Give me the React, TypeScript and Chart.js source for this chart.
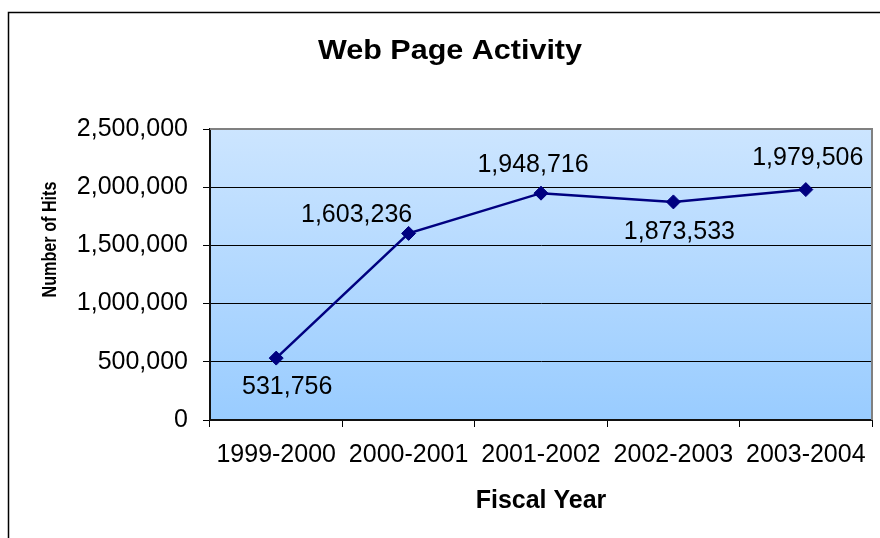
import React, { useEffect, useRef } from "react";
import { Chart, registerables } from "chart.js";

Chart.register(...registerables);

const categories = ["1999-2000", "2000-2001", "2001-2002", "2002-2003", "2003-2004"];
const hits = [531756, 1603236, 1948716, 1873533, 1979506];
const yTickMin = 0;
const yTickMax = 2500000;
const yTickStep = 500000;

const chartTitle = "Web Page Activity";
const xTitle = "Fiscal Year";
const yTitle = "Number of Hits";

// label placement (pixel offsets from each point), styling only
const labelDx = [11, -52, -8, 6, 2];
const labelDy = [29, -18, -28, 30, -31];

const FONT = "'Liberation Sans', Arial, Helvetica, sans-serif";

const fmt = (v: number) => v.toLocaleString("en-US");

function drawStretched(ctx: any, text: string, font: string, x: number, y: number, width: number, rotate: boolean) {
  ctx.save();
  ctx.font = font;
  ctx.fillStyle = "#000";
  ctx.textAlign = "center";
  ctx.textBaseline = "alphabetic";
  const w = ctx.measureText(text).width;
  ctx.translate(x, y);
  if (rotate) ctx.rotate(-Math.PI / 2);
  ctx.scale(width / w, 1);
  ctx.fillText(text, 0, 0);
  ctx.restore();
}

const decorPlugin = {
  id: "decor",
  beforeDraw(chart: any) {
    const { ctx, chartArea } = chart;
    const { left, top, right, bottom } = chartArea;
    ctx.save();
    const g = ctx.createLinearGradient(0, top, 0, bottom);
    g.addColorStop(0, "#CCE5FF");
    g.addColorStop(1, "#99CCFF");
    ctx.fillStyle = g;
    ctx.fillRect(left, top, right - left, bottom - top);
    ctx.restore();
  },
  beforeDatasetsDraw(chart: any) {
    const { ctx, chartArea } = chart;
    const { left, top, right, bottom } = chartArea;
    ctx.save();
    ctx.strokeStyle = "#808080";
    ctx.lineWidth = 2;
    ctx.beginPath();
    ctx.moveTo(left, top);
    ctx.lineTo(right, top);
    ctx.lineTo(right, bottom);
    ctx.stroke();
    ctx.restore();
  },
  afterDraw(chart: any) {
    const { ctx, chartArea } = chart;
    ctx.save();
    // outer frame
    ctx.strokeStyle = "#000";
    ctx.lineWidth = 1.5;
    ctx.beginPath();
    ctx.moveTo(8.5, chart.height + 5);
    ctx.lineTo(8.5, 12.5);
    ctx.lineTo(chart.width + 5, 12.5);
    ctx.stroke();
    ctx.restore();
    // chart title
    drawStretched(ctx, chartTitle, `bold 28px ${FONT}`, 450, 59, 264, false);
    // y axis title
    drawStretched(ctx, yTitle, `bold 21px ${FONT}`, 56, (chartArea.top + chartArea.bottom) / 2 - 35, 116, true);
  },
  afterDatasetsDraw(chart: any) {
    const { ctx } = chart;
    const meta = chart.getDatasetMeta(0);
    ctx.save();
    ctx.fillStyle = "#000";
    ctx.font = `25px ${FONT}`;
    ctx.textAlign = "center";
    ctx.textBaseline = "middle";
    meta.data.forEach((pt: any, i: number) => {
      ctx.fillText(fmt(hits[i]), pt.x + labelDx[i], pt.y + labelDy[i]);
    });
    ctx.restore();
  },
};

export default function App() {
  const ref = useRef<HTMLCanvasElement | null>(null);
  useEffect(() => {
    if (!ref.current) return;
    const chart = new Chart(ref.current, {
      type: "line",
      data: {
        labels: categories,
        datasets: [
          {
            label: yTitle,
            data: hits,
            borderColor: "#000080",
            backgroundColor: "#000080",
            borderWidth: 2.5,
            pointStyle: "rectRot",
            pointRadius: 7,
            pointBorderWidth: 1,
            pointBackgroundColor: "#000080",
            pointBorderColor: "#000080",
            tension: 0,
          },
        ],
      },
      options: {
        animation: false,
        responsive: false,
        maintainAspectRatio: false,
        layout: { padding: { left: 28, right: 8, top: 129, bottom: 18 } },
        plugins: {
          legend: { display: false },
          tooltip: { enabled: false },
          title: { display: false, text: chartTitle },
        },
        scales: {
          x: {
            type: "category",
            offset: true,
            grid: {
              offset: true,
              drawOnChartArea: false,
              drawTicks: true,
              tickLength: 7,
              color: "#000",
            },
            border: { display: true, color: "#111", width: 2 },
            ticks: {
              color: "#000",
              font: { family: FONT, size: 25 },
              padding: 13,
              maxRotation: 0,
              autoSkip: false,
            },
            title: {
              display: true,
              text: xTitle,
              color: "#000",
              font: { family: FONT, size: 25, weight: "bold" },
              padding: { top: 0, bottom: 4 },
            },
            afterFit(scale: any) {
              scale.height = 100;
            },
          },
          y: {
            min: yTickMin,
            max: yTickMax,
            grid: {
              color: "#000",
              lineWidth: 1,
              drawTicks: true,
              tickLength: 7,
            },
            border: { display: true, color: "#111", width: 2 },
            ticks: {
              stepSize: yTickStep,
              color: "#000",
              font: { family: FONT, size: 25 },
              padding: 15,
              callback: (v: any) => fmt(Number(v)),
            },
            afterFit(scale: any) {
              scale.width = 182;
            },
          },
        },
      },
      plugins: [decorPlugin],
    });
    return () => chart.destroy();
  }, []);
  return (
    <div style={{ position: "fixed", left: 0, top: 0, width: 880, height: 538, background: "#fff" }}>
      <canvas ref={ref} width={880} height={538} style={{ width: 880, height: 538, display: "block" }} />
    </div>
  );
}
